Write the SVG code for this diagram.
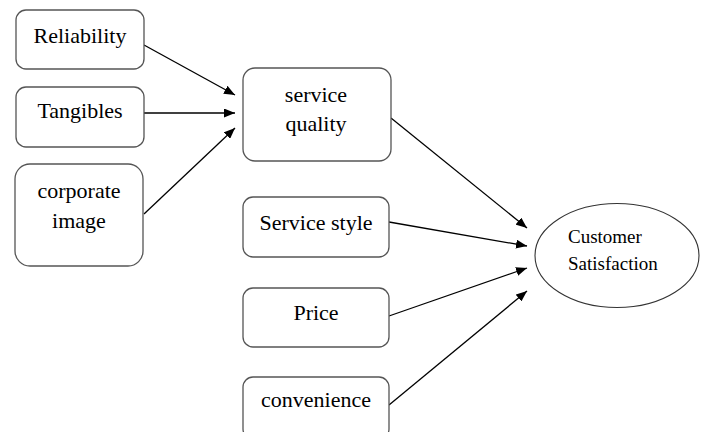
<svg xmlns="http://www.w3.org/2000/svg" width="706" height="432" viewBox="0 0 706 432">
  <defs>
    <marker id="arrow" viewBox="0 0 11 9" refX="11" refY="4.5" markerWidth="11" markerHeight="9" markerUnits="userSpaceOnUse" orient="auto">
      <path d="M0,0 L11,4.5 L0,9 Z" fill="#000"/>
    </marker>
  </defs>
  <style>
    .box { fill: #fff; stroke: #555; stroke-width: 1.3; }
    text { font-family: 'Liberation Serif', Tinos, 'Times New Roman', 'DejaVu Serif', serif; fill: #000; }
    .lbl { font-size: 22px; text-anchor: middle; }
    .small { font-size: 19px; }
    .edge { stroke: #000; stroke-width: 1.3; fill: none; marker-end: url(#arrow); }
  </style>
  <rect width="706" height="432" fill="#fff"/>

  <g id="connectors">
    <line class="edge" x1="144" y1="45" x2="235" y2="95"/>
    <line class="edge" x1="144" y1="113" x2="235" y2="113"/>
    <line class="edge" x1="144" y1="214" x2="235" y2="128"/>
    <line class="edge" x1="391" y1="118" x2="527" y2="228"/>
    <line class="edge" x1="389" y1="222" x2="527" y2="246"/>
    <line class="edge" x1="389" y1="316" x2="527" y2="268"/>
    <line class="edge" x1="389" y1="405" x2="527" y2="291"/>
  </g>

  <g id="reliability">
    <rect class="box" x="16" y="10" width="128" height="59" rx="10"/>
    <text class="lbl" x="80" y="43">Reliability</text>
  </g>
  <g id="tangibles">
    <rect class="box" x="16" y="87" width="128" height="60" rx="10"/>
    <text class="lbl" x="80" y="118">Tangibles</text>
  </g>
  <g id="corporate-image">
    <rect class="box" x="15" y="164" width="128" height="102" rx="15"/>
    <text class="lbl" x="79" y="198">corporate</text>
    <text class="lbl" x="79" y="228">image</text>
  </g>
  <g id="service-quality">
    <rect class="box" x="243" y="68" width="148" height="93" rx="12"/>
    <text class="lbl" x="316" y="102">service</text>
    <text class="lbl" x="316" y="131">quality</text>
  </g>
  <g id="service-style">
    <rect class="box" x="243" y="197" width="146" height="60" rx="10"/>
    <text class="lbl" x="316" y="230">Service style</text>
  </g>
  <g id="price">
    <rect class="box" x="243" y="288" width="146" height="59" rx="10"/>
    <text class="lbl" x="316" y="320">Price</text>
  </g>
  <g id="convenience">
    <rect class="box" x="243" y="377" width="146" height="62" rx="10"/>
    <text class="lbl" x="316" y="407">convenience</text>
  </g>
  <g id="customer-satisfaction">
    <ellipse cx="617" cy="255.5" rx="82" ry="52" fill="#fff" stroke="#333" stroke-width="1.1"/>
    <text class="small" x="568" y="243">Customer</text>
    <text class="small" x="568" y="270">Satisfaction</text>
  </g>
</svg>
